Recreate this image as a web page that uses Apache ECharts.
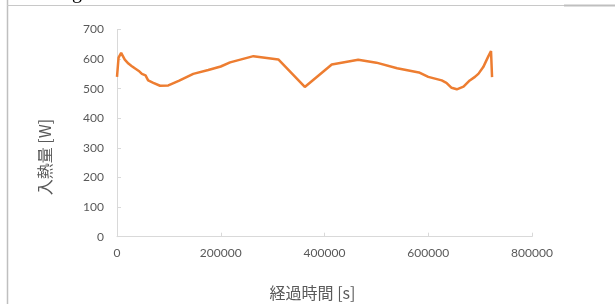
<!DOCTYPE html>
<html lang="ja">

<head>
    <meta charset="UTF-8">
    <title>入熱量</title>
    <style>
        html, body { margin: 0; padding: 0; background: #fff; }
        #chart { width: 615px; height: 304px; }
    </style>
</head>

<body>
    <div id="chart"></div>
    <script src="https://cdn.jsdelivr.net/npm/echarts@6/dist/echarts.min.js"></script>
    <script>
        // 経過時間 [s]
        var times = [0, 3000, 8000, 15000, 22000, 28000, 35000, 42000, 48000, 55000,
            60000, 70000, 83000, 99000, 120000, 147000, 176000, 200000, 218000, 263000,
            311000, 362000, 414000, 465000, 500000, 540000, 582000, 600000, 626000, 635000,
            645000, 655000, 668000, 680000, 690000, 697000, 706000, 716000, 721000, 723000];
        // 入熱量 [W]
        var heat = [540, 605, 621, 598, 585, 577, 568, 560, 550, 545,
            528, 520, 510, 511, 527, 550, 563, 575, 589, 610,
            599, 506, 582, 598, 588, 569, 555, 540, 528, 520,
            503, 498, 507, 528, 540, 551, 573, 610, 627, 539];
        var yTicks = [0, 700, 100];
        var xTicks = [0, 800000, 200000];

        var pts = [];
        for (var i = 0; i < times.length; i++) {
            pts.push([times[i], heat[i]]);
        }

        var axisGray = '#d9d9d9';
        var textGray = '#595959';

        var myChart = echarts.init(document.getElementById('chart'));
        var option = {
            animation: false,
            grid: { left: 117, right: 83, top: 29.5, bottom: 67.3, outerBoundsMode: 'none' },
            xAxis: {
                type: 'value',
                min: xTicks[0], max: xTicks[1], interval: xTicks[2],
                name: '経過時間 [s]',
                nameLocation: 'middle',
                nameGap: 48,
                nameTextStyle: { fontFamily: 'Noto Sans CJK JP', fontSize: 16, color: textGray, padding: [0, 24, 0, 0] },
                axisLine: { lineStyle: { color: axisGray } },
                axisTick: { inside: true, length: 4, lineStyle: { color: axisGray } },
                axisLabel: {
                    color: textGray, fontSize: 12, fontFamily: 'Lato', margin: 10,
                    formatter: function (v) { return String(v); }
                },
                splitLine: { show: false }
            },
            yAxis: {
                type: 'value',
                min: yTicks[0], max: yTicks[1], interval: yTicks[2],
                name: '入熱量 [W]',
                nameLocation: 'middle',
                nameGap: 64,
                nameTextStyle: { fontFamily: 'Noto Sans CJK JP', fontSize: 16, color: textGray, padding: [0, 48, 0, 0] },
                axisLine: { show: true, lineStyle: { color: axisGray } },
                axisTick: { show: true, inside: true, length: 4, lineStyle: { color: axisGray } },
                axisLabel: { color: textGray, fontSize: 12, fontFamily: 'Lato', margin: 13 },
                splitLine: { show: false }
            },
            series: [{
                type: 'line',
                data: pts,
                showSymbol: false,
                lineStyle: { color: '#ED7D31', width: 2.5 },
                itemStyle: { color: '#ED7D31' }
            }],
            graphic: [
                // 周りの枠線
                { type: 'line', shape: { x1: 7.5, y1: 0, x2: 7.5, y2: 304 }, style: { stroke: '#bfbfbf', lineWidth: 1.5 } },
                { type: 'line', shape: { x1: 7, y1: 5.5, x2: 615, y2: 5.5 }, style: { stroke: '#c8c8c8', lineWidth: 1 } },
                { type: 'line', shape: { x1: 564, y1: 5.5, x2: 615, y2: 5.5 }, style: { stroke: '#bfbfbf', lineWidth: 2 } },
                { type: 'text', left: 72, top: -17, style: { text: 'g', fontSize: 20, fontFamily: 'Liberation Serif', fill: '#000' } }
            ]
        };
        myChart.setOption(option);
    </script>
</body>

</html>
